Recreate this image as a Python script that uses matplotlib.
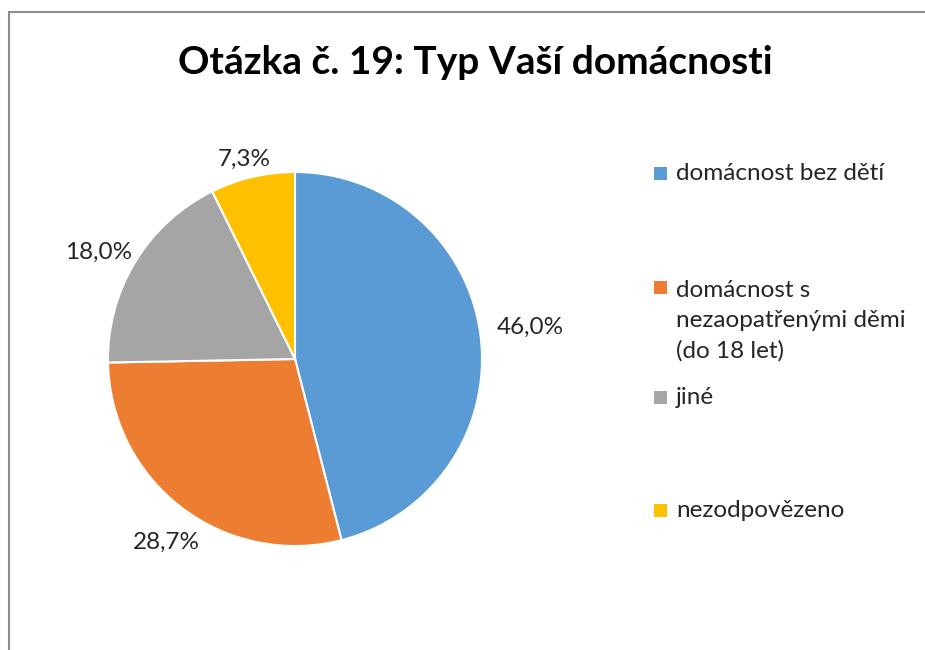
import matplotlib.pyplot as plt
from matplotlib.patches import Rectangle

categories = [
    "domácnost bez dětí",
    "domácnost s\nnezaopatřenými děmi\n(do 18 let)",
    "jiné",
    "nezodpovězeno",
]
shares = [46.0, 28.7, 18.0, 7.3]
colors = ["#5B9BD5", "#ED7D31", "#A5A5A5", "#FFC000"]
title = "Otázka č. 19: Typ Vaší domácnosti"

plt.rcParams["font.family"] = ["Lato", "DejaVu Sans"]

W, H = 925, 650
fig = plt.figure(figsize=(W / 100, H / 100), dpi=100)

# chart border (Excel style frame, cut at right/bottom)
fig.patches.append(Rectangle((9 / W, -0.01), 1.1, (H - 12) / H + 0.01,
                             transform=fig.transFigure, fill=False,
                             edgecolor="#8c8c8c", linewidth=1.5))

# pie: center (295, 359), radius 187 px
cx, cy, r = 295, 359, 187
ax = fig.add_axes([(cx - r) / W, (H - cy - r) / H, 2 * r / W, 2 * r / H])
wedges, _ = ax.pie(shares, colors=colors, startangle=90, counterclock=False,
                   wedgeprops=dict(edgecolor="white", linewidth=1.5))
ax.set_xlim(-1, 1)
ax.set_ylim(-1, 1)
ax.set_aspect("equal")

label_pos = [(1.26, 0.17), (-0.69, -0.98), (-1.05, 0.57), (-0.27, 1.07)]
for v, (lx, ly) in zip(shares, label_pos):
    ax.text(lx, ly, f"{v:.1f}".replace(".", ",") + "%", ha="center",
            va="center", fontsize=17.5, color="#262626", clip_on=False)

fig.text(475 / W, 1 - 62 / H, title, ha="center", va="center",
         fontsize=28, fontweight="bold", color="#000000")

# legend, placed like the Excel layout
leg_y = [173, 287, 397, 510]
line_px = 32
for cat, col, y in zip(categories, colors, leg_y):
    fig.patches.append(Rectangle((654 / W, 1 - (y + 6.5) / H), 13 / W, 13 / H,
                                 transform=fig.transFigure, facecolor=col,
                                 edgecolor="none"))
    n = cat.count("\n")
    fig.text(676 / W, 1 - (y + 7 + n * line_px) / H, cat, ha="left",
             va="baseline", fontsize=17.5, color="#262626", linespacing=1.54)

fig.savefig("out.png", dpi=100)
